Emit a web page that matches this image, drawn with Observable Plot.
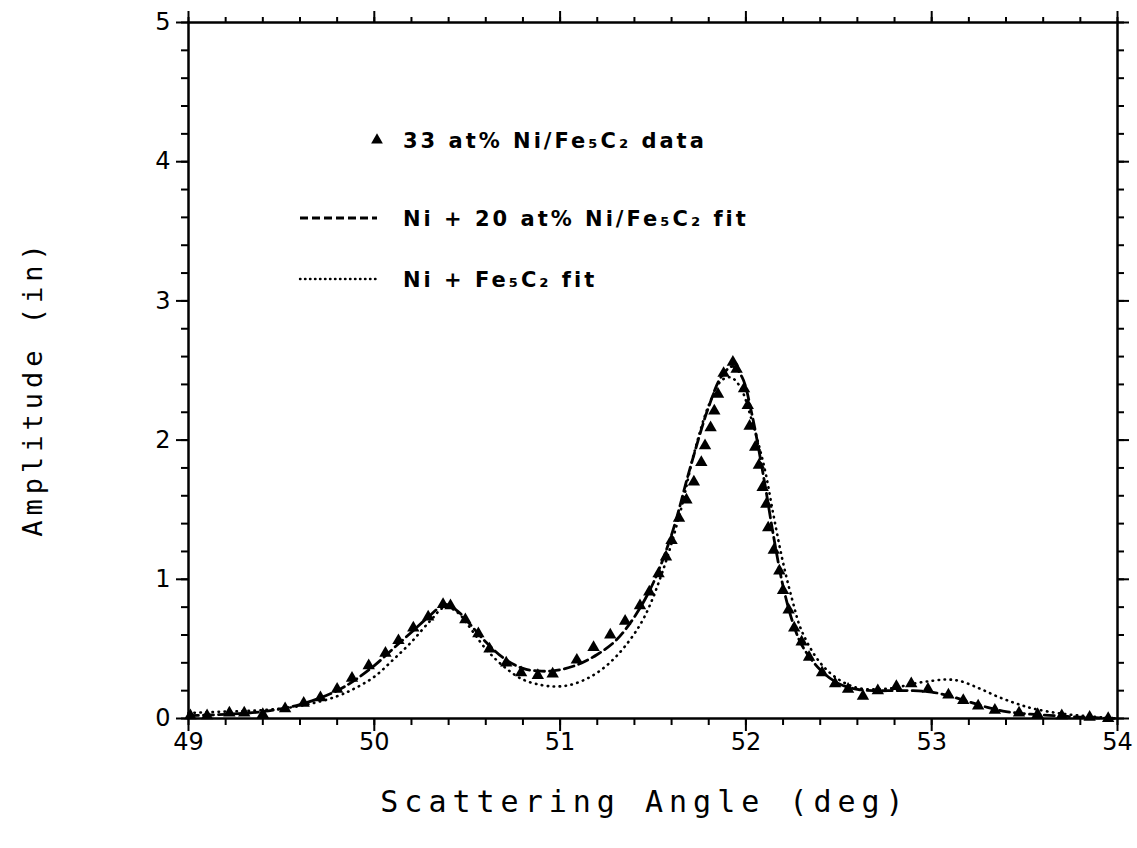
<!DOCTYPE html>
<html>
<head>
<meta charset="utf-8">
<script src="https://cdn.jsdelivr.net/npm/d3@7"></script>
<script src="https://cdn.jsdelivr.net/npm/@observablehq/plot@0.6"></script>
<style>
  html, body { margin: 0; padding: 0; background: white; }
  #chart { width: 1137px; height: 848px; }
</style>
</head>
<body>
<div id="chart"></div>
<script>
// ---- data ----
const dataAngle = [49.01,49.10,49.22,49.30,49.40,49.52,49.62,49.71,49.80,49.88,49.97,50.06,50.13,50.21,50.29,50.37,50.41,50.49,50.56,50.62,50.71,50.79,50.88,50.96,51.09,51.18,51.27,51.35,51.43,51.48,51.53,51.57,51.60,51.64,51.68,51.72,51.76,51.78,51.81,51.83,51.85,51.88,51.93,51.95,51.99,52.01,52.02,52.05,52.07,52.09,52.11,52.12,52.15,52.18,52.20,52.23,52.26,52.30,52.34,52.41,52.48,52.55,52.63,52.71,52.81,52.89,52.98,53.09,53.17,53.25,53.34,53.47,53.57,53.70,53.85,53.95];
const dataAmp   = [0.02,0.02,0.04,0.04,0.03,0.07,0.11,0.15,0.21,0.29,0.38,0.47,0.56,0.65,0.73,0.82,0.81,0.71,0.61,0.50,0.40,0.33,0.31,0.32,0.42,0.51,0.60,0.70,0.81,0.91,1.04,1.16,1.28,1.44,1.57,1.70,1.84,1.96,2.09,2.21,2.33,2.48,2.56,2.51,2.37,2.25,2.10,1.95,1.82,1.66,1.54,1.37,1.21,1.06,0.92,0.78,0.65,0.55,0.44,0.33,0.25,0.21,0.16,0.20,0.23,0.25,0.21,0.17,0.13,0.09,0.06,0.04,0.03,0.02,0.01,0.00];

const fit20Angle = [49.0,49.2,49.4,49.6,49.8,49.9,50.0,50.1,50.2,50.3,50.38,50.45,50.5,50.6,50.7,50.8,50.9,51.0,51.1,51.2,51.3,51.4,51.5,51.6,51.7,51.8,51.87,51.93,51.98,52.03,52.1,52.15,52.2,52.25,52.3,52.4,52.5,52.6,52.7,52.8,52.9,53.0,53.1,53.2,53.3,53.4,53.5,53.6,53.8,54.0];
const fit20Amp   = [0.02,0.03,0.05,0.10,0.20,0.28,0.38,0.50,0.62,0.74,0.82,0.77,0.70,0.55,0.43,0.36,0.34,0.35,0.39,0.46,0.56,0.73,0.97,1.32,1.80,2.24,2.46,2.53,2.45,2.20,1.70,1.30,0.95,0.70,0.53,0.35,0.25,0.21,0.20,0.20,0.20,0.19,0.16,0.12,0.08,0.05,0.035,0.025,0.01,0.0];

const fitFeAngle = [49.0,49.2,49.4,49.6,49.8,49.9,50.0,50.1,50.2,50.3,50.38,50.45,50.5,50.6,50.7,50.8,50.9,50.97,51.05,51.15,51.25,51.35,51.45,51.55,51.65,51.72,51.8,51.87,51.92,51.97,52.03,52.1,52.15,52.2,52.25,52.3,52.4,52.5,52.6,52.7,52.8,52.9,53.0,53.08,53.15,53.25,53.35,53.45,53.55,53.7,53.85,54.0];
const fitFeAmp   = [0.04,0.05,0.06,0.09,0.16,0.22,0.30,0.42,0.55,0.70,0.80,0.76,0.68,0.50,0.37,0.28,0.24,0.23,0.24,0.29,0.38,0.52,0.72,1.05,1.50,1.90,2.25,2.43,2.45,2.38,2.15,1.80,1.45,1.12,0.85,0.63,0.40,0.28,0.22,0.21,0.22,0.25,0.27,0.28,0.27,0.22,0.16,0.11,0.07,0.035,0.015,0.0];

const xTicks = [49, 50, 51, 52, 53, 54];
const yTicks = [0, 1, 2, 3, 4, 5];
const xLabel = "Scattering Angle (deg)";
const yLabel = "Amplitude (in)";
const legendLabels = ["33 at% Ni/Fe₅C₂ data", "Ni + 20 at% Ni/Fe₅C₂ fit", "Ni + Fe₅C₂ fit"];

// ---- build tables ----
const pts = dataAngle.map((x, i) => ({x, y: dataAmp[i]}));
const fit20 = fit20Angle.map((x, i) => ({x, y: fit20Amp[i]}));
const fitFe = fitFeAngle.map((x, i) => ({x, y: fitFeAmp[i]}));
const xMinor = d3.range(49, 54.001, 0.2).map(v => +v.toFixed(2));
const yMinor = d3.range(0, 5.001, 0.2).map(v => +v.toFixed(2));

const W = 1137, H = 848;
const blank = () => "";

const chart = Plot.plot({
  width: W, height: H,
  marginLeft: 188, marginRight: 20, marginTop: 22, marginBottom: 130,
  x: {domain: [49, 54], label: null},
  y: {domain: [0, 5], label: null},
  style: {fontFamily: "DejaVu Sans", fontSize: "24px", color: "black", background: "white"},
  marks: [
    Plot.frame({stroke: "black", strokeWidth: 2.5}),
    // bottom axis
    Plot.axisX({anchor: "bottom", ticks: xMinor, tickSize: 7, strokeWidth: 2, tickFormat: blank, label: null}),
    Plot.axisX({anchor: "bottom", ticks: xTicks, tickSize: 13, tickPadding: 1, strokeWidth: 2, tickFormat: d => String(d), label: null}),
    // top axis
    Plot.axisX({anchor: "top", ticks: xMinor, tickSize: 6, strokeWidth: 2, tickFormat: blank, label: null}),
    Plot.axisX({anchor: "top", ticks: xTicks, tickSize: 12, strokeWidth: 2, tickFormat: blank, label: null}),
    // left axis
    Plot.axisY({anchor: "left", ticks: yMinor, tickSize: 7, strokeWidth: 2, tickFormat: blank, label: null}),
    Plot.axisY({anchor: "left", ticks: yTicks, tickSize: 12, tickPadding: 6, strokeWidth: 2, tickFormat: d => String(d), label: null}),
    // right axis
    Plot.axisY({anchor: "right", ticks: yMinor, tickSize: 6, strokeWidth: 2, tickFormat: blank, label: null}),
    Plot.axisY({anchor: "right", ticks: yTicks, tickSize: 11, strokeWidth: 2, tickFormat: blank, label: null}),
    // fits
    Plot.line(fitFe, {x: "x", y: "y", curve: "catmull-rom", stroke: "black", strokeWidth: 2.6, strokeDasharray: "0.5,5.5", strokeLinecap: "round"}),
    Plot.line(fit20, {x: "x", y: "y", curve: "catmull-rom", stroke: "black", strokeWidth: 2.8, strokeDasharray: "10,5"}),
    // data
    Plot.dot(pts, {x: "x", y: "y", symbol: "triangle", r: 4.6, fill: "black", stroke: "none"})
  ]
});

document.getElementById("chart").appendChild(chart);

// ---- titles and in-plot legend ----
const svg = d3.select(chart);
svg.append("text")
  .attr("x", 645).attr("y", 812)
  .attr("text-anchor", "middle")
  .style("font-family", "DejaVu Sans Mono")
  .style("font-size", "30px")
  .style("letter-spacing", "6px")
  .attr("fill", "black")
  .text(xLabel);
svg.append("text")
  .attr("transform", "translate(42,388) rotate(-90)")
  .attr("text-anchor", "middle")
  .style("font-family", "DejaVu Sans Mono")
  .style("font-size", "27px")
  .style("letter-spacing", "5px")
  .attr("fill", "black")
  .text(yLabel);

const lg = svg.append("g")
  .attr("text-anchor", "start")
  .style("font-family", "DejaVu Sans")
  .style("font-size", "21px")
  .style("font-weight", "bold")
  .style("letter-spacing", "3px")
  .attr("fill", "black");
const rowsY = [140, 218, 279];
lg.append("path")
  .attr("d", d3.symbol(d3.symbolTriangle, 60)())
  .attr("transform", `translate(377,${rowsY[0]})`)
  .attr("fill", "black");
lg.append("line").attr("x1", 300).attr("x2", 377).attr("y1", rowsY[1]).attr("y2", rowsY[1])
  .attr("stroke", "black").attr("stroke-width", 2.8).attr("stroke-dasharray", "8,4");
lg.append("line").attr("x1", 300).attr("x2", 377).attr("y1", rowsY[2]).attr("y2", rowsY[2])
  .attr("stroke", "black").attr("stroke-width", 2.4).attr("stroke-dasharray", "0.5,4.5").attr("stroke-linecap", "round");
legendLabels.forEach((t, i) => {
  lg.append("text").attr("x", 403).attr("y", rowsY[i] + 8).attr("text-anchor", "start").text(t);
});
</script>
</body>
</html>
